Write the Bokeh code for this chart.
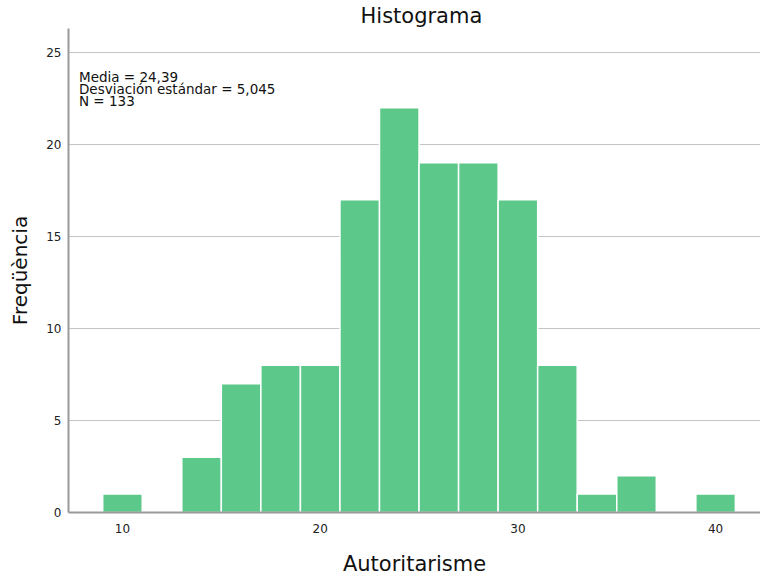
from bokeh.plotting import figure
from bokeh.models import Label, FixedTicker, Range1d, ColumnDataSource, Title
from bokeh.embed import file_html
from bokeh.resources import INLINE

# ---- data ----
bin_edges = [9, 11, 13, 15, 17, 19, 21, 23, 25, 27, 29, 31, 33, 35, 37, 39, 41]
counts = [1, 0, 3, 7, 8, 8, 17, 22, 19, 19, 17, 8, 1, 2, 0, 1]
x_ticks = [10, 20, 30, 40]
y_ticks = [0, 5, 10, 15, 20, 25]
stats_lines = ["Media = 24,39", "Desviación estándar = 5,045", "N = 133"]
title_text = "Histograma"
x_label = "Autoritarisme"
y_label = "Freqüència"

FONT = "DejaVu Sans"
BAR = "#5cc98b"

src = ColumnDataSource(dict(left=bin_edges[:-1], right=bin_edges[1:], top=counts))

p = figure(frame_width=692, frame_height=484, output_backend="svg", toolbar_location=None,
           x_range=Range1d(7.27, 42.27), y_range=Range1d(0, 26.3),
           min_border_left=68, min_border_right=0, min_border_top=27, min_border_bottom=64)
p.background_fill_color = "white"
p.border_fill_color = "white"
p.outline_line_color = None

p.title = Title(text=title_text, align="left", offset=292, standoff=2,
                text_font=FONT, text_font_size="21px", text_font_style="normal",
                text_color="#111111")

p.quad(left="left", right="right", bottom=0, top="top", source=src,
       fill_color=BAR, line_color="white", line_width=1.5)

# grid
p.xgrid.grid_line_color = None
p.ygrid.ticker = FixedTicker(ticks=y_ticks)
p.ygrid.grid_line_color = "#c4c4c4"
p.ygrid.grid_line_width = 1

# axes
for ax in (p.xaxis[0], p.yaxis[0]):
    ax.axis_line_color = "#9a9a9a"
    ax.axis_line_width = 2
    ax.major_tick_line_color = None
    ax.minor_tick_line_color = None
    ax.major_tick_out = 0
    ax.major_tick_in = 0
    ax.minor_tick_out = 0
    ax.minor_tick_in = 0
    ax.major_label_text_font = FONT
    ax.major_label_text_font_size = "12px"
    ax.major_label_text_color = "#222222"
    ax.axis_label_text_font = FONT
    ax.axis_label_text_font_style = "normal"
    ax.axis_label_text_color = "#111111"

p.xaxis.ticker = FixedTicker(ticks=x_ticks)
p.yaxis.ticker = FixedTicker(ticks=y_ticks)
p.xaxis.axis_label = x_label
p.yaxis.axis_label = y_label
p.xaxis.axis_label_text_font_size = "21px"
p.yaxis.axis_label_text_font_size = "20px"
p.xaxis.major_label_standoff = 11
p.xaxis.axis_label_standoff = 16
p.yaxis.major_label_standoff = 7
p.yaxis.axis_label_standoff = 11

# statistics box text
stat_y = [23.64, 22.99, 22.34]
for txt, yy in zip(stats_lines, stat_y):
    p.add_layout(Label(x=7.8, y=yy, text=txt, text_align="left",
                       text_baseline="alphabetic", text_font=FONT,
                       text_font_size="13.5px", text_color="#111111"))

open("out.html", "w").write(file_html(p, INLINE))
